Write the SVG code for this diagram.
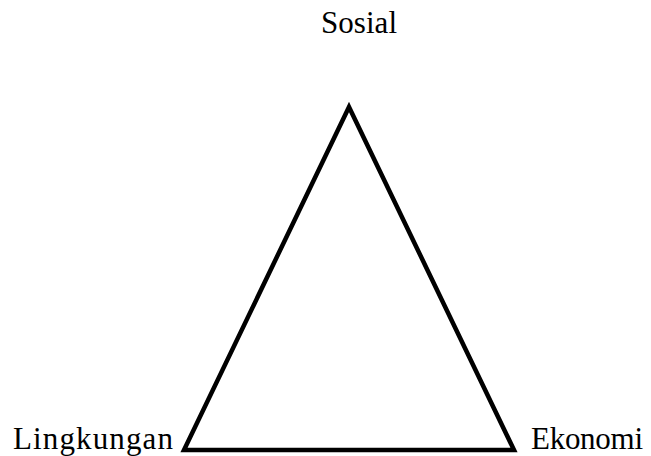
<svg xmlns="http://www.w3.org/2000/svg" width="651" height="456" viewBox="0 0 651 456">
<style>
.lbl{font-family:"Liberation Serif","Times New Roman",serif;font-size:31px;fill:#000}
.edge{fill:none;stroke:#000;stroke-width:4.5;stroke-linejoin:miter}
</style>
<rect width="651" height="456" fill="#fff"/>
<g id="connectors">
<polygon class="edge" points="349,107 514,450 184,450"/>
</g>
<g id="sosial"><text class="lbl" x="321" y="33" textLength="76" lengthAdjust="spacing">Sosial</text></g>
<g id="lingkungan"><text class="lbl" x="13" y="449" textLength="160" lengthAdjust="spacing">Lingkungan</text></g>
<g id="ekonomi"><text class="lbl" x="531" y="449" textLength="112" lengthAdjust="spacing">Ekonomi</text></g>
</svg>
